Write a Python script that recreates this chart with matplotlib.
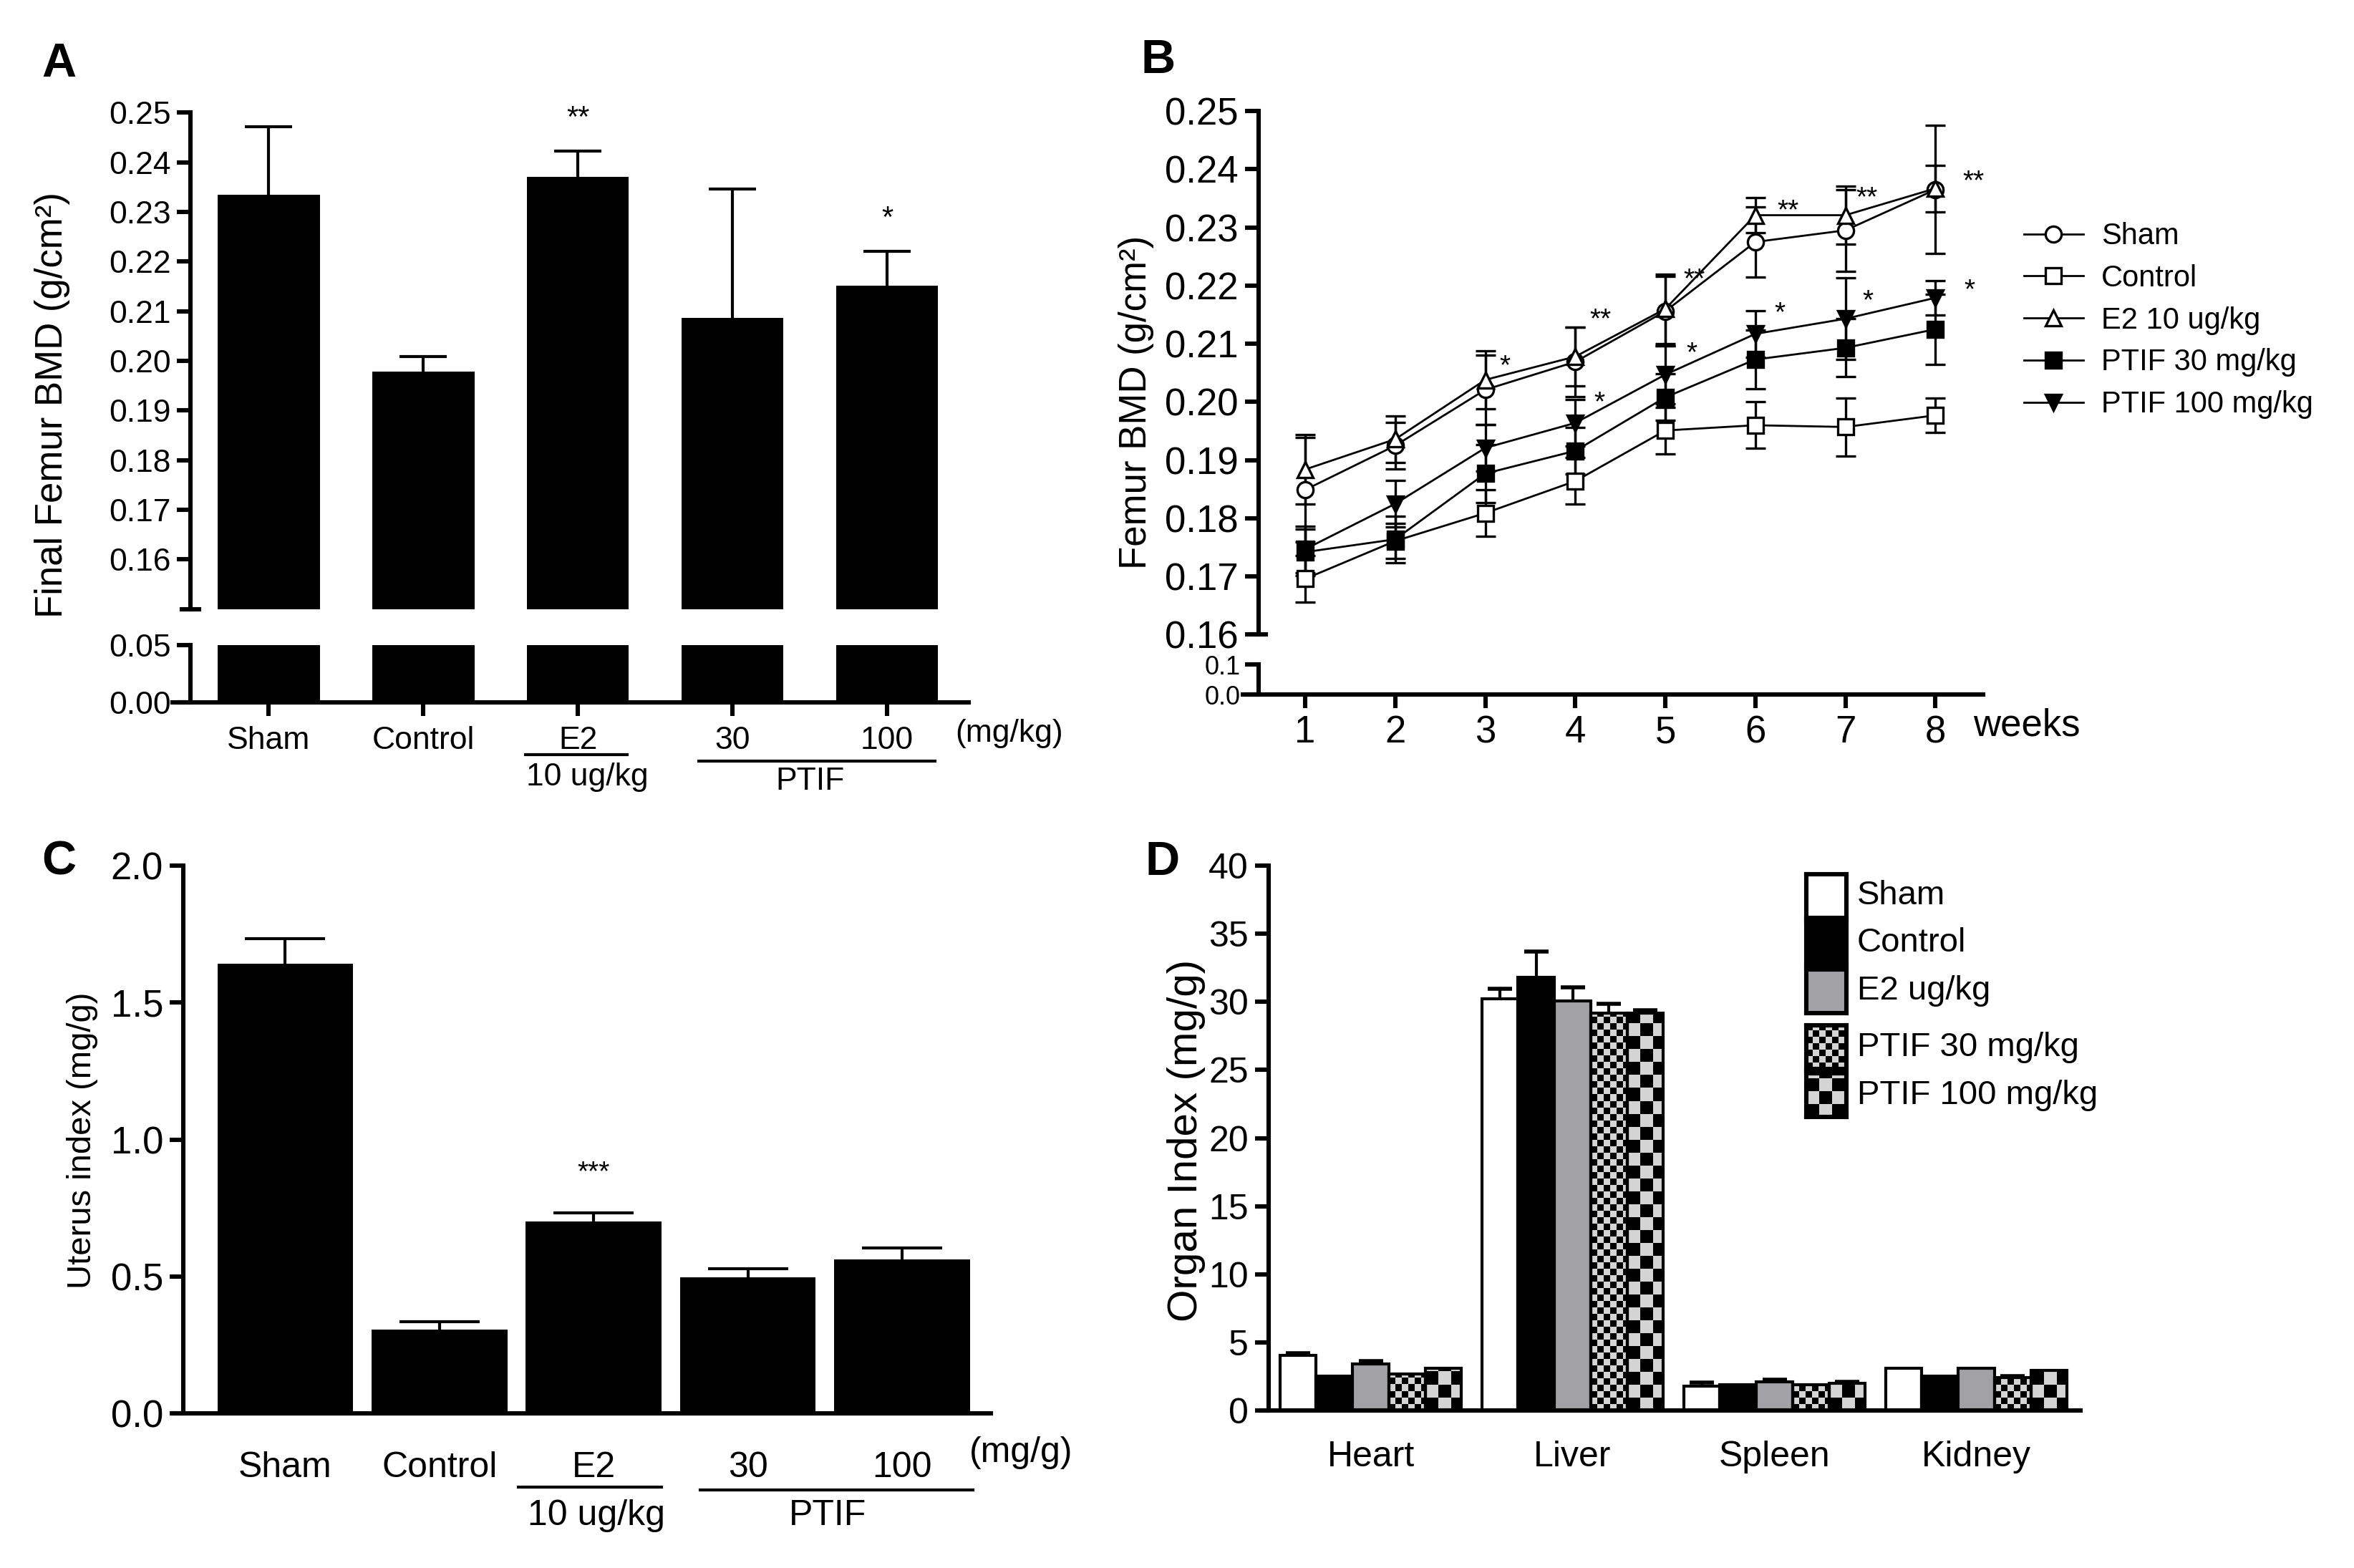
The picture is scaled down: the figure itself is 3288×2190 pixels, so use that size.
import matplotlib.pyplot as plt
import matplotlib.transforms as mtransforms
from matplotlib.lines import Line2D
from matplotlib.colors import ListedColormap
import numpy as np

plt.rcParams['font.family'] = ['Liberation Sans', 'DejaVu Sans']
NARROW = ['Liberation Sans Narrow', 'Liberation Sans', 'DejaVu Sans']

# ---------------- data ----------------
# A: final femur BMD
groups_a = ['Sham', 'Control', 'E2', '30', '100']
final_bmd = [0.2335, 0.1979, 0.2371, 0.2087, 0.2152]
final_bmd_err = [0.0136, 0.0029, 0.0052, 0.0259, 0.0069]
stars_a = ['', '', '**', '', '*']

# B: femur BMD over weeks
weeks = [1, 2, 3, 4, 5, 6, 7, 8]
bmd_sham = [0.1849, 0.1925, 0.2021, 0.2069, 0.2156, 0.2275, 0.2295, 0.2365]
bmd_sham_err = [0.009, 0.004, 0.006, 0.006, 0.006, 0.006, 0.007, 0.011]
bmd_control = [0.1696, 0.1761, 0.1809, 0.1864, 0.1951, 0.1960, 0.1957, 0.1977]
bmd_control_err = [0.004, 0.003, 0.004, 0.004, 0.004, 0.004, 0.005, 0.003]
bmd_e2 = [0.1884, 0.1936, 0.2038, 0.2078, 0.2160, 0.2321, 0.2321, 0.2367]
bmd_e2_err = [0.006, 0.004, 0.005, 0.005, 0.006, 0.003, 0.005, 0.004]
bmd_p30 = [0.1742, 0.1764, 0.1877, 0.1916, 0.2008, 0.2073, 0.2093, 0.2125]
bmd_p30_err = [0.004, 0.004, 0.005, 0.004, 0.004, 0.005, 0.005, 0.006]
bmd_p100 = [0.1747, 0.1825, 0.1921, 0.1964, 0.2047, 0.2117, 0.2143, 0.2179]
bmd_p100_err = [0.004, 0.004, 0.004, 0.004, 0.005, 0.004, 0.007, 0.003]
star2_x = [4.28, 5.32, 6.36, 7.24, 8.42]
star2_y = [0.2140, 0.2209, 0.2327, 0.2349, 0.2378]
star1_x = [3.22, 4.27, 5.29, 6.27, 7.25, 8.38]
star1_y = [0.2060, 0.1998, 0.2083, 0.2151, 0.2172, 0.2191]

# C: uterus index
uterus = [1.642, 0.305, 0.702, 0.498, 0.563]
uterus_err = [0.093, 0.030, 0.030, 0.030, 0.041]

# D: organ index
organs = ['Heart', 'Liver', 'Spleen', 'Kidney']
organ_sham = [4.02, 30.24, 1.79, 3.12]
organ_sham_err = [0.2, 0.72, 0.25, 0.0]
organ_control = [2.51, 31.82, 1.90, 2.51]
organ_control_err = [0.0, 1.9, 0.0, 0.0]
organ_e2 = [3.41, 30.06, 2.08, 3.12]
organ_e2_err = [0.19, 1.0, 0.18, 0.0]
organ_p30 = [2.69, 29.2, 1.87, 2.44]
organ_p30_err = [0.0, 0.65, 0.0, 0.06]
organ_p100 = [3.12, 29.2, 1.97, 2.94]
organ_p100_err = [0.0, 0.2, 0.11, 0.0]

# ---------------- layout helpers ----------------
W, H = 1568.0, 1045.0
LW = 2.2
FIG_W, FIG_H, DPI = 16.44, 10.95, 200
CHECK_CMAP = ListedColormap(['black', '#d4d4d4'])


def rect(l, t, r, b):
    return [l / W, 1 - b / H, (r - l) / W, (b - t) / H]


def style(ax, bottom=True):
    ax.spines['top'].set_visible(False)
    ax.spines['right'].set_visible(False)
    ax.spines['left'].set_linewidth(LW)
    ax.spines['bottom'].set_linewidth(LW)
    ax.tick_params(width=LW, length=7, direction='out', pad=3)
    if not bottom:
        ax.spines['bottom'].set_visible(False)
        ax.tick_params(axis='x', bottom=False, labelbottom=False)
    ax.patch.set_alpha(0)


def up_errors(ax, x, y, err, capsize, capthick=1.5):
    x = np.asarray(x); y = np.asarray(y); err = np.asarray(err)
    keep = err > 0
    eb = ax.errorbar(x[keep], y[keep], yerr=[np.zeros(keep.sum()), err[keep]], fmt='none',
                     ecolor='k', elinewidth=1.5, capsize=capsize, capthick=capthick)
    eb.lines[1][0].set_visible(False)   # hide the cap sitting on the bar top


fig = plt.figure(figsize=(FIG_W, FIG_H), dpi=DPI)

# ================= A =================
xa = np.arange(len(groups_a))
axa = fig.add_axes(rect(115, 75, 645, 406))
axa2 = fig.add_axes(rect(115, 430, 645, 468))
for ax in (axa, axa2):
    ax.bar(xa, final_bmd, width=0.66, color='k')
    ax.set_xlim(-0.621, 4.525)
    ax.spines['left'].set_position(('data', -0.505))
style(axa, bottom=False)
style(axa2)
up_errors(axa, xa, final_bmd, final_bmd_err, capsize=12)
axa.set_ylim(0.15, 0.25)
yt = np.arange(0.16, 0.2501, 0.01)
axa.set_yticks(yt, [f'{v:.2f}' for v in yt], fontsize=16)
axa.plot([-0.56, -0.45], [0.15, 0.15], color='k', lw=LW, clip_on=False)
for x, s, v, e in zip(xa, stars_a, final_bmd, final_bmd_err):
    if s:
        axa.text(x, v + e + 0.0035, s, ha='center', va='bottom', fontsize=15)
axa2.set_ylim(0, 0.05)
axa2.set_yticks([0, 0.05], ['0.00', '0.05'], fontsize=16)
axa2.set_xticks(xa, groups_a, fontsize=16)
axa2.tick_params(axis='x', pad=5)
ta = mtransforms.blended_transform_factory(axa2.transData, fig.transFigure)
axa2.text(4.79, 0.532, '(mg/kg)', transform=ta, ha='center', va='center', fontsize=16)
axa2.plot([1.66, 2.32], [0.5187, 0.5187], transform=ta, color='k', lw=1.5, clip_on=False)
axa2.text(2.06, 0.5043, '10 ug/kg', transform=ta, ha='center', va='center', fontsize=16)
axa2.plot([2.78, 4.31], [0.5148, 0.5148], transform=ta, color='k', lw=1.5, clip_on=False)
axa2.text(3.5, 0.5014, 'PTIF', transform=ta, ha='center', va='center', fontsize=16)
fig.text(35 / W, 1 - 270 / H, 'Final Femur BMD (g/cm²)', rotation=90,
         ha='center', va='center', fontsize=19)
fig.text(28 / W, 1 - 28 / H, 'A', ha='left', va='top', fontsize=24, fontweight='bold')

# ================= B =================
axb = fig.add_axes(rect(828, 74, 1321, 423))
axb2 = fig.add_axes(rect(828, 443, 1321, 463))
for ax in (axb, axb2):
    ax.set_xlim(0.31, 8.53)
    ax.spines['left'].set_position(('data', 0.48))
style(axb, bottom=False)
style(axb2)
series_b = [
    ('Sham', bmd_sham, bmd_sham_err, 'o', 'white'),
    ('Control', bmd_control, bmd_control_err, 's', 'white'),
    ('E2 10 ug/kg', bmd_e2, bmd_e2_err, '^', 'white'),
    ('PTIF 30 mg/kg', bmd_p30, bmd_p30_err, 's', 'black'),
    ('PTIF 100 mg/kg', bmd_p100, bmd_p100_err, 'v', 'black'),
]
handles = []
for name, vals, errs, mk, fc in series_b:
    axb.errorbar(weeks, vals, yerr=errs, color='k', lw=1.0, elinewidth=1.2,
                 capsize=5, capthick=1.5, marker=mk, markersize=8,
                 markerfacecolor=fc, markeredgecolor='k', markeredgewidth=1.2)
    handles.append(Line2D([0], [0], color='k', lw=1.0, marker=mk, markersize=8,
                          markerfacecolor=fc, markeredgecolor='k', markeredgewidth=1.2))
for x, y in zip(star2_x, star2_y):
    axb.text(x, y, '**', ha='center', va='center', fontsize=14)
for x, y in zip(star1_x, star1_y):
    axb.text(x, y, '*', ha='center', va='center', fontsize=14)
axb.set_ylim(0.16, 0.25)
yt = np.arange(0.16, 0.2501, 0.01)
axb.set_yticks(yt, [f'{v:.2f}' for v in yt], fontsize=19, family=NARROW)
axb.plot([0.40, 0.56], [0.16, 0.16], color='k', lw=LW, clip_on=False)
axb2.set_ylim(0, 0.1)
axb2.set_yticks([0, 0.1], ['0.0', '0.1'], fontsize=13, family=NARROW)
axb2.tick_params(axis='y', pad=2)
axb2.set_xticks(weeks, [str(w) for w in weeks], fontsize=19, family=NARROW)
tb = mtransforms.blended_transform_factory(axb2.transData, fig.transFigure)
axb2.text(8.42, 0.537, 'weeks', transform=tb, ha='left', va='center', fontsize=19, family=NARROW)
axb.legend(handles, [s[0] for s in series_b], loc='upper left',
           bbox_to_anchor=(1348 / W, 1 - 148 / H), bbox_transform=fig.transFigure,
           frameon=False, fontsize=15, handlelength=2.0, labelspacing=0.45,
           handletextpad=0.6, borderpad=0, borderaxespad=0)
fig.text(757 / W, 1 - 268 / H, 'Femur BMD (g/cm²)', rotation=90,
         ha='center', va='center', fontsize=19)
fig.text(760 / W, 1 - 26 / H, 'B', ha='left', va='top', fontsize=24, fontweight='bold')

# ================= C =================
xc = np.arange(len(groups_a))
axc = fig.add_axes(rect(115, 577, 660, 942))
style(axc)
axc.bar(xc, uterus, width=0.88, color='k')
up_errors(axc, xc, uterus, uterus_err, capsize=20)
axc.set_xlim(-0.730, 4.576)
axc.spines['left'].set_position(('data', -0.662))
axc.set_ylim(0, 2.0)
yt = [0.0, 0.5, 1.0, 1.5, 2.0]
axc.set_yticks(yt, [f'{v:.1f}' for v in yt], fontsize=19, family=NARROW)
axc.set_xticks(xc, groups_a, fontsize=18, family=NARROW)
axc.tick_params(axis='x', bottom=False, pad=12)
axc.text(2, uterus[2] + uterus_err[2] + 0.1, '***', ha='center', va='bottom', fontsize=14)
tc = mtransforms.blended_transform_factory(axc.transData, fig.transFigure)
axc.text(4.77, 0.0737, '(mg/g)', transform=tc, ha='center', va='center', fontsize=18, family=NARROW)
axc.plot([1.51, 2.44], [0.0517, 0.0517], transform=tc, color='k', lw=1.5, clip_on=False)
axc.text(2.02, 0.0335, '10 ug/kg', transform=tc, ha='center', va='center', fontsize=18, family=NARROW)
axc.plot([2.69, 4.46], [0.0498, 0.0498], transform=tc, color='k', lw=1.5, clip_on=False)
axc.text(3.52, 0.0335, 'PTIF', transform=tc, ha='center', va='center', fontsize=18, family=NARROW)
fig.text(55 / W, 1 - 760 / H, 'Uterus index (mg/g)', rotation=90,
         ha='center', va='center', fontsize=17)
fig.text(28 / W, 1 - 560 / H, 'C', ha='left', va='top', fontsize=24, fontweight='bold')

# ================= D =================
xd = np.arange(len(organs))
d_rect = rect(840, 577, 1386, 940)
axd = fig.add_axes(d_rect)
style(axd)
D_XLIM = (-0.543, 3.517)
D_YLIM = (0, 40)
px_per_x = d_rect[2] * FIG_W * DPI / (D_XLIM[1] - D_XLIM[0])
px_per_y = d_rect[3] * FIG_H * DPI / (D_YLIM[1] - D_YLIM[0])
bw = 0.18
series_d = [
    ('Sham', organ_sham, organ_sham_err, 'white', 0),
    ('Control', organ_control, organ_control_err, 'black', 0),
    ('E2 ug/kg', organ_e2, organ_e2_err, '#a2a2a6', 0),
    ('PTIF 30 mg/kg', organ_p30, organ_p30_err, 'none', 9),
    ('PTIF 100 mg/kg', organ_p100, organ_p100_err, 'none', 18),
]
for i, (name, vals, errs, fc, cell) in enumerate(series_d):
    pos = xd + (i - 2) * bw
    bars = axd.bar(pos, vals, width=bw, color=fc, edgecolor='k', linewidth=1.5, zorder=2)
    if cell:
        # checkerboard fill, clipped to each bar
        for b in bars:
            x0, h = b.get_x(), b.get_height()
            nx = int(np.ceil(bw * px_per_x / cell))
            ny = int(np.ceil(h * px_per_y / cell))
            grid = np.indices((ny, nx)).sum(0) % 2
            im = axd.imshow(grid, cmap=CHECK_CMAP, interpolation='nearest', aspect='auto',
                            origin='lower', zorder=1.5,
                            extent=[x0, x0 + nx * cell / px_per_x, 0, ny * cell / px_per_y])
            im.set_clip_path(b)
    up_errors(axd, pos, vals, errs, capsize=6, capthick=2)
axd.set_xlim(*D_XLIM)
axd.set_ylim(*D_YLIM)
axd.spines['left'].set_position(('data', -0.506))
yt = np.arange(0, 41, 5)
axd.set_yticks(yt, [str(v) for v in yt], fontsize=18, family=NARROW)
axd.set_xticks(xd, organs, fontsize=18, family=NARROW)
axd.tick_params(axis='x', bottom=False, pad=8)

# legend of D, drawn box by box
legend_rows = [597, 628.5, 660.5, 698, 730]
for (name, vals, errs, fc, cell), cy in zip(series_d, legend_rows):
    lax = fig.add_axes(rect(1203, cy - 14.5, 1230, cy + 14.5))
    lax.set_xticks([])
    lax.set_yticks([])
    for s in lax.spines.values():
        s.set_linewidth(2.2)
    if cell:
        bw_px = 27 * FIG_W * DPI / W
        bh_px = 29 * FIG_H * DPI / H
        grid = np.indices((int(np.ceil(bh_px / cell)), int(np.ceil(bw_px / cell)))).sum(0) % 2
        lax.imshow(grid, cmap=CHECK_CMAP, interpolation='nearest', aspect='auto', origin='lower',
                   extent=[0, grid.shape[1] * cell, 0, grid.shape[0] * cell])
        lax.set_xlim(0, bw_px)
        lax.set_ylim(0, bh_px)
    else:
        lax.set_facecolor(fc)
    fig.text(1237 / W, 1 - cy / H, name, ha='left', va='center', fontsize=17, family=NARROW)

fig.text(790 / W, 1 - 760 / H, 'Organ Index (mg/g)', rotation=90,
         ha='center', va='center', fontsize=21)
fig.text(763 / W, 1 - 560 / H, 'D', ha='left', va='top', fontsize=24, fontweight='bold')

fig.savefig('out.png', dpi=DPI)
